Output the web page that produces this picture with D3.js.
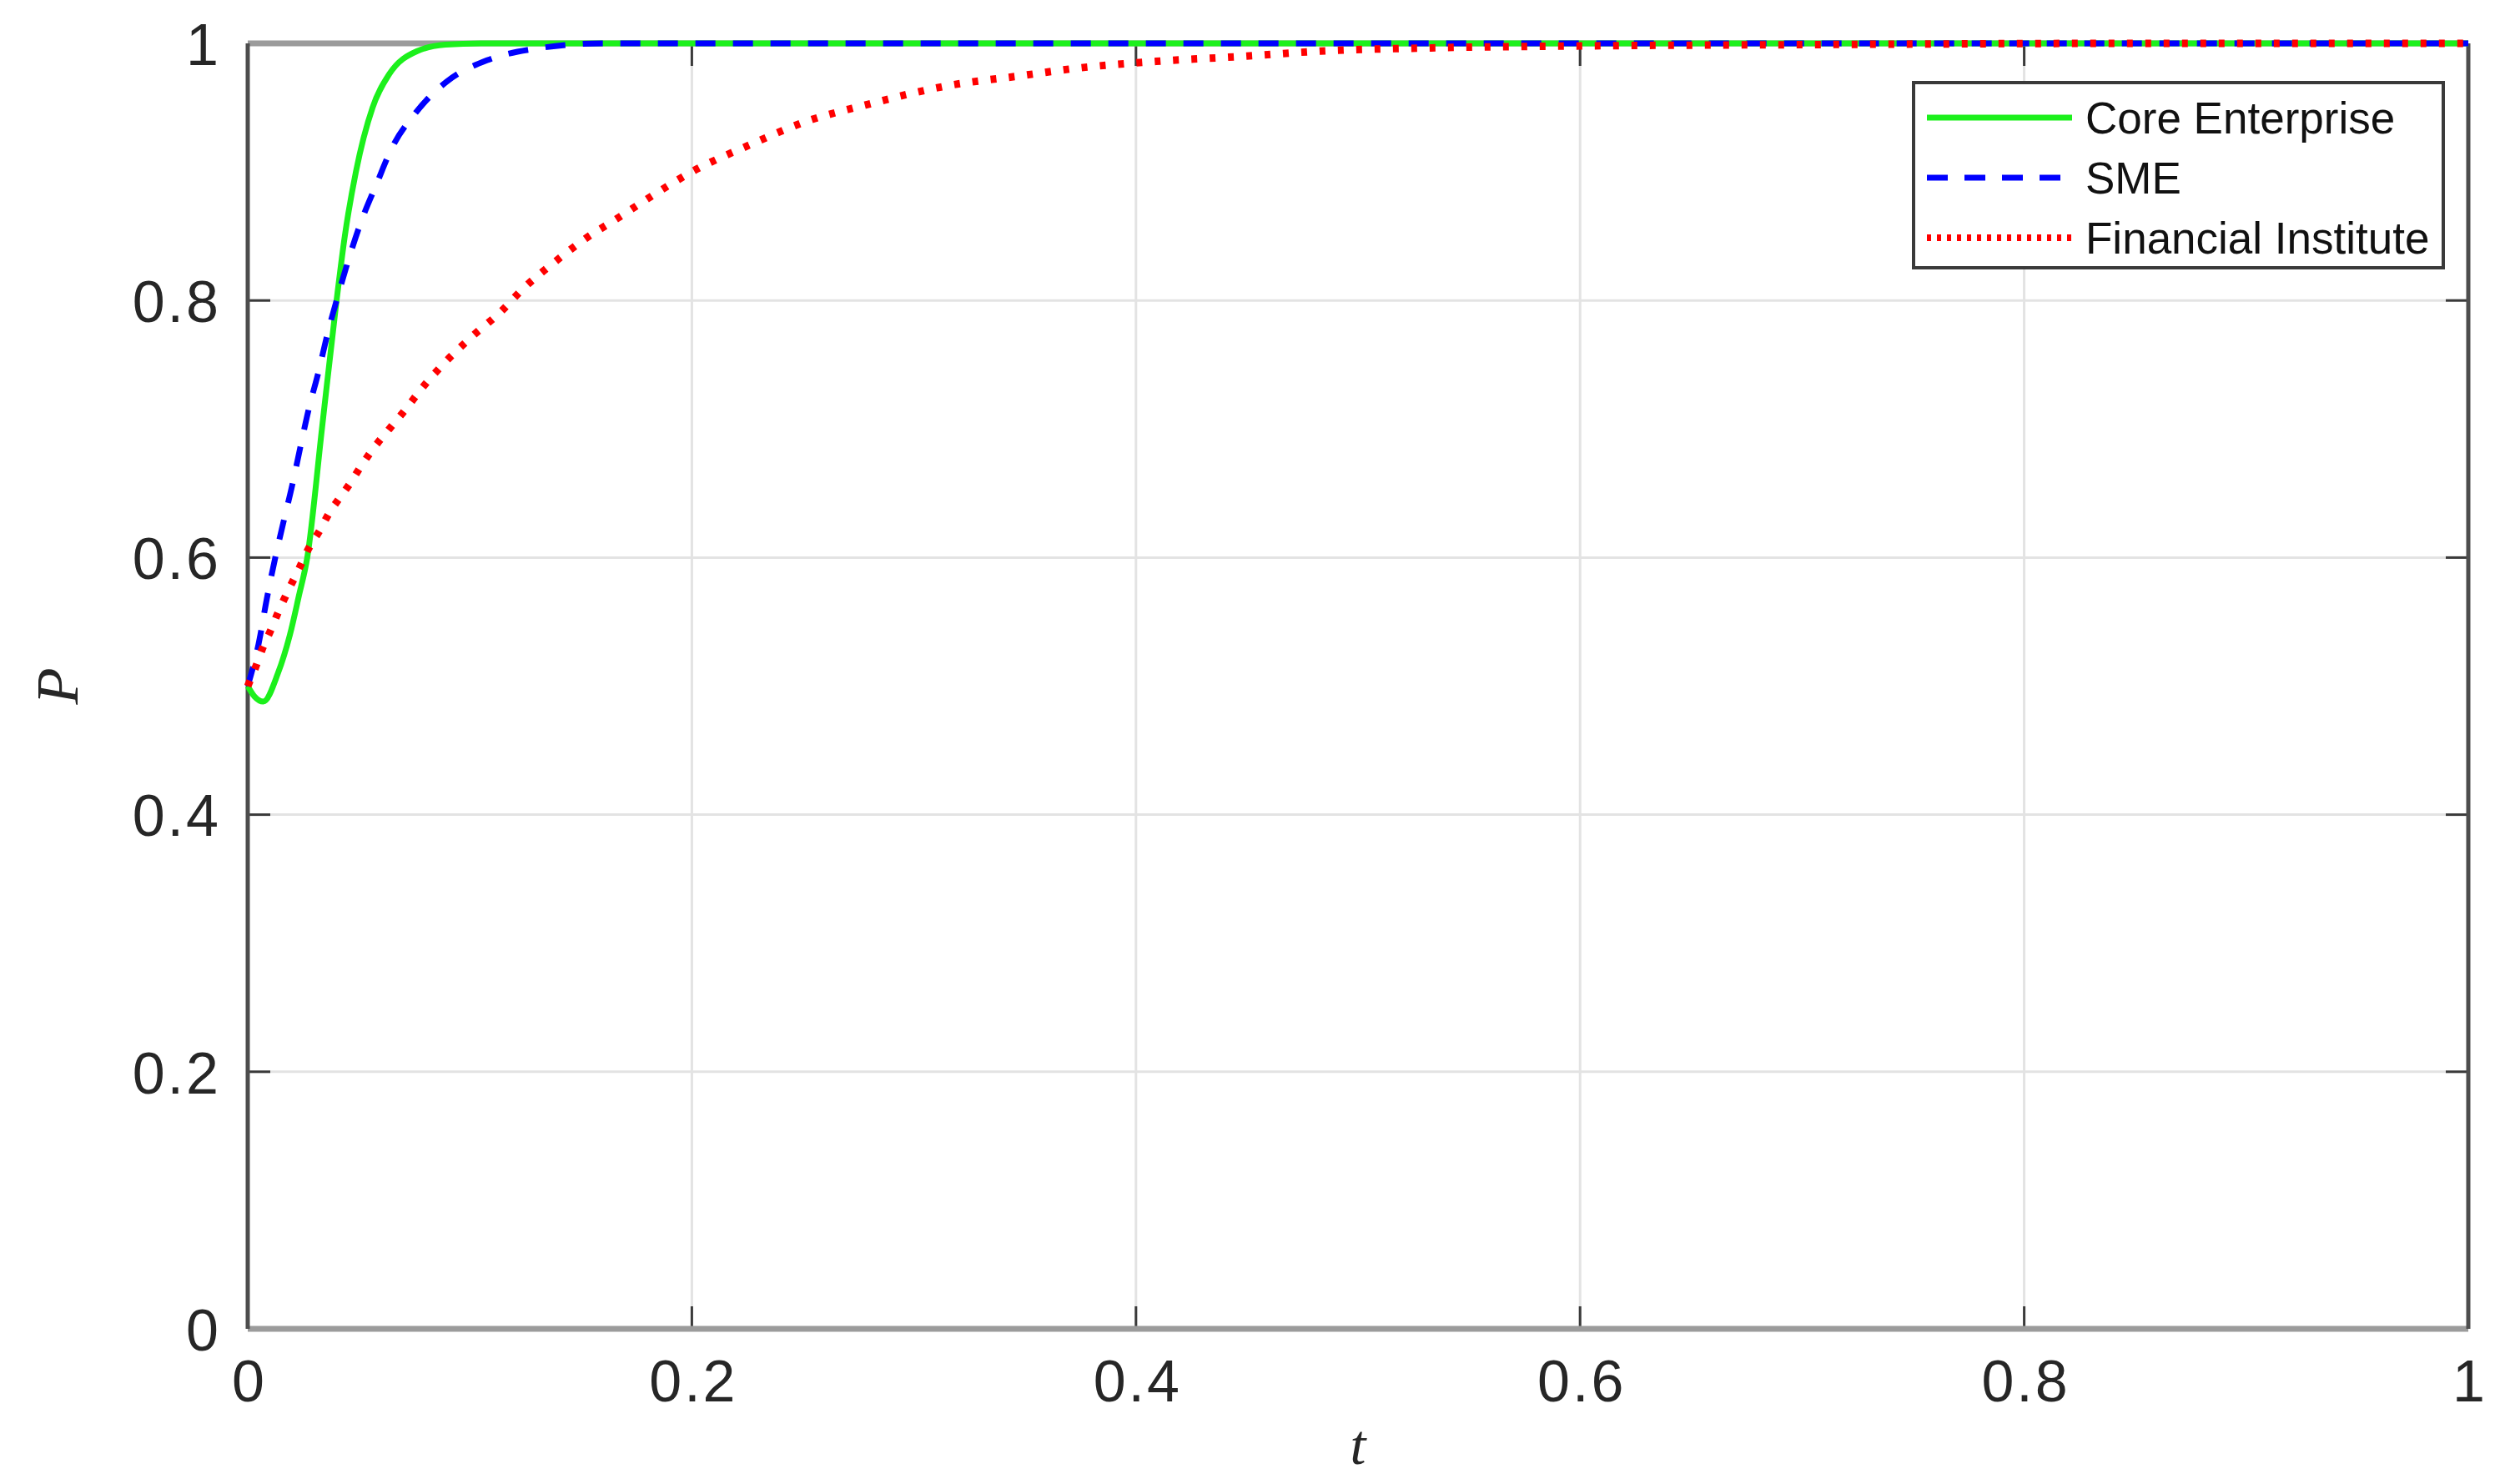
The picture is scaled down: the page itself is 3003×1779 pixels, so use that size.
<!DOCTYPE html>
<html>
<head>
<meta charset="utf-8">
<script src="https://cdn.jsdelivr.net/npm/d3@7"></script>
<style>
  html, body { margin: 0; padding: 0; background: #fff; }
  svg { display: block; }
</style>
</head>
<body>
<svg id="chart"></svg>
<script>
// 曲線データ
var coreT = [0, 0.003, 0.007, 0.0136, 0.019, 0.023, 0.0268, 0.0334, 0.040, 0.0437, 0.0487, 0.0562, 0.0637, 0.0763, 0.089, 0.105, 0.2, 0.4, 0.6, 0.8, 1.0];
var coreP = [0.5, 0.492, 0.488, 0.51, 0.54, 0.57, 0.60, 0.70, 0.80, 0.85, 0.90, 0.95, 0.976, 0.994, 0.999, 1.0, 1.0, 1.0, 1.0, 1.0, 1.0];

var smeT = [0, 0.0049, 0.0086, 0.0124, 0.016, 0.02, 0.0237, 0.0274, 0.0318, 0.0362, 0.0405, 0.0456, 0.0512, 0.0581, 0.065, 0.0756, 0.0894, 0.108, 0.13, 0.16, 0.4, 0.7, 1.0];
var smeP = [0.5, 0.533, 0.568, 0.60, 0.627, 0.656, 0.686, 0.715, 0.744, 0.776, 0.803, 0.833, 0.862, 0.891, 0.919, 0.946, 0.97, 0.987, 0.996, 1.0, 1.0, 1.0, 1.0];

var finT = [0, 0.0036, 0.0068, 0.0105, 0.0136, 0.0187, 0.023, 0.0274, 0.0324, 0.0368, 0.0412, 0.0462, 0.0506, 0.0562, 0.0637, 0.07, 0.08, 0.0889, 0.101, 0.1138, 0.1239, 0.139, 0.152, 0.1675, 0.1826, 0.201, 0.226, 0.251, 0.278, 0.315, 0.349, 0.375, 0.409, 0.449, 0.483, 0.533, 0.6, 0.7, 0.85, 1.0];
var finP = [0.5, 0.515, 0.53, 0.544, 0.557, 0.576, 0.591, 0.607, 0.621, 0.635, 0.646, 0.658, 0.67, 0.684, 0.70, 0.713, 0.735, 0.752, 0.772, 0.791, 0.809, 0.831, 0.848, 0.865, 0.882, 0.901, 0.921, 0.939, 0.952, 0.967, 0.975, 0.981, 0.986, 0.990, 0.994, 0.9965, 0.998, 0.999, 1.0, 1.0];

var seriesNames = ["Core Enterprise", "SME", "Financial Institute"];
var xTicks = [0, 0.2, 0.4, 0.6, 0.8, 1];
var yTicks = [0, 0.2, 0.4, 0.6, 0.8, 1];

// 表示サイズ
var size = { width: 3003, height: 1779 };
var margin = { top: 52, right: 44, bottom: 186, left: 297 };
var width = size.width - margin.left - margin.right;
var height = size.height - margin.top - margin.bottom;

var x = d3.scaleLinear().domain([0, 1]).range([0, width]);
var y = d3.scaleLinear().domain([0, 1]).range([height, 0]);

var svg = d3.select("#chart")
  .attr("width", size.width)
  .attr("height", size.height)
  .append("g")
    .attr("transform", "translate(" + margin.left + "," + margin.top + ")");

var fontSans = "'Liberation Sans', Arial, sans-serif";
var fontSerif = "'Liberation Serif', 'Times New Roman', serif";

// グリッド
svg.append("g")
  .selectAll("line")
  .data(xTicks.slice(1, -1))
  .enter().append("line")
    .attr("x1", function(d){ return x(d); })
    .attr("x2", function(d){ return x(d); })
    .attr("y1", 0).attr("y2", height)
    .attr("stroke", "#e3e3e3").attr("stroke-width", 3);

svg.append("g")
  .selectAll("line")
  .data(yTicks.slice(1, -1))
  .enter().append("line")
    .attr("x1", 0).attr("x2", width)
    .attr("y1", function(d){ return y(d); })
    .attr("y2", function(d){ return y(d); })
    .attr("stroke", "#e3e3e3").attr("stroke-width", 3);

// 軸（下・左）
var xAxis = d3.axisBottom(x).tickValues(xTicks).tickFormat(d3.format("")).tickSize(0).tickPadding(37);
var yAxis = d3.axisLeft(y).tickValues(yTicks).tickFormat(d3.format("")).tickSize(0).tickPadding(32);

var gx = svg.append("g").attr("transform", "translate(0," + height + ")").call(xAxis);
var gy = svg.append("g").call(yAxis);
[gx, gy].forEach(function(g){
  g.select(".domain").remove();
  g.selectAll("text")
    .attr("font-family", fontSans)
    .attr("font-size", 70)
    .attr("letter-spacing", 3)
    .attr("fill", "#262626");
});
gx.selectAll("text").attr("dx", 1.5);
gy.selectAll("text").attr("dy", "0.36em");

// 内向きの目盛り（四辺）
var tickLen = 27;
xTicks.forEach(function(d){
  svg.append("line").attr("x1", x(d)).attr("x2", x(d)).attr("y1", height).attr("y2", height - tickLen)
    .attr("stroke", "#3a3a3a").attr("stroke-width", 3);
  svg.append("line").attr("x1", x(d)).attr("x2", x(d)).attr("y1", 0).attr("y2", tickLen)
    .attr("stroke", "#3a3a3a").attr("stroke-width", 3);
});
yTicks.forEach(function(d){
  svg.append("line").attr("x1", 0).attr("x2", tickLen).attr("y1", y(d)).attr("y2", y(d))
    .attr("stroke", "#3a3a3a").attr("stroke-width", 3);
  svg.append("line").attr("x1", width).attr("x2", width - tickLen).attr("y1", y(d)).attr("y2", y(d))
    .attr("stroke", "#3a3a3a").attr("stroke-width", 3);
});

// 枠線
svg.append("line").attr("x1", 0).attr("x2", width).attr("y1", height).attr("y2", height)
  .attr("stroke", "#9b9b9b").attr("stroke-width", 7);
svg.append("line").attr("x1", 0).attr("x2", width).attr("y1", 0).attr("y2", 0)
  .attr("stroke", "#9b9b9b").attr("stroke-width", 7);
svg.append("line").attr("x1", 0).attr("x2", 0).attr("y1", 0).attr("y2", height)
  .attr("stroke", "#4d4d4d").attr("stroke-width", 5);
svg.append("line").attr("x1", width).attr("x2", width).attr("y1", 0).attr("y2", height)
  .attr("stroke", "#4d4d4d").attr("stroke-width", 5);

// 軸ラベル
svg.append("text")
  .attr("x", x(0.5)).attr("y", height + 162)
  .attr("text-anchor", "middle")
  .attr("font-family", fontSerif).attr("font-style", "italic")
  .attr("font-size", 68).attr("fill", "#262626")
  .text("t");

svg.append("text")
  .attr("transform", "translate(" + (93 - margin.left) + "," + (y(0.5)) + ") rotate(-90)")
  .attr("text-anchor", "middle")
  .attr("font-family", fontSerif).attr("font-style", "italic")
  .attr("font-size", 72).attr("fill", "#262626")
  .text("P");

// 系列
var series = [
  { name: seriesNames[0], t: coreT, p: coreP, color: "#1cf01c", dash: null, w: 7, ldash: null, lw: 7 },
  { name: seriesNames[1], t: smeT, p: smeP, color: "#0000ff", dash: "24,21", w: 7, ldash: "25,20", lw: 7 },
  { name: seriesNames[2], t: finT, p: finP, color: "#ff0000", dash: "7,15", w: 9, ldash: "5,7", lw: 8 }
];

var line = d3.line()
  .x(function(d){ return x(d[0]); })
  .y(function(d){ return y(d[1]); })
  .curve(d3.curveMonotoneX);

series.forEach(function(s){
  var pts = d3.zip(s.t, s.p);
  svg.append("path")
    .datum(pts)
    .attr("d", line)
    .attr("fill", "none")
    .attr("stroke", s.color)
    .attr("stroke-width", s.w)
    .attr("stroke-dasharray", s.dash);
});

// 凡例
var legend = svg.append("g")
  .attr("transform", "translate(" + (2294 - margin.left) + "," + (99 - margin.top) + ")");

legend.append("rect")
  .attr("width", 635).attr("height", 222)
  .attr("fill", "#fff")
  .attr("stroke", "#3a3a3a").attr("stroke-width", 4);

series.forEach(function(s, i){
  var ly = 42 + i * 72;
  legend.append("line")
    .attr("x1", 16).attr("x2", 190)
    .attr("y1", ly).attr("y2", ly)
    .attr("stroke", s.color)
    .attr("stroke-width", s.lw)
    .attr("stroke-dasharray", s.ldash);
  legend.append("text")
    .attr("x", 206).attr("y", ly)
    .attr("dy", "0.36em")
    .attr("font-family", fontSans)
    .attr("font-size", 53)
    .attr("fill", "#111")
    .text(s.name);
});
</script>
</body>
</html>
